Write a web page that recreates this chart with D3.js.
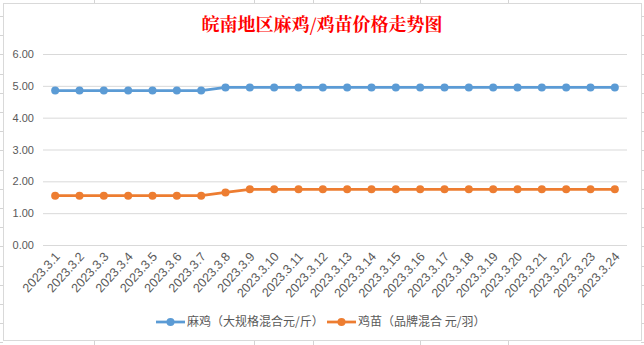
<!DOCTYPE html>
<html>
<head>
<meta charset="utf-8">
<script src="https://cdn.jsdelivr.net/npm/d3@7"></script>
<style>
  html, body { margin: 0; padding: 0; background: #fff; }
  svg { display: block; }
</style>
</head>
<body>
<svg id="chart" width="644" height="345"></svg>
<script>
// Dates (March 2023) and prices
const dates = ["2023.3.1","2023.3.2","2023.3.3","2023.3.4","2023.3.5","2023.3.6","2023.3.7","2023.3.8",
  "2023.3.9","2023.3.10","2023.3.11","2023.3.12","2023.3.13","2023.3.14","2023.3.15","2023.3.16",
  "2023.3.17","2023.3.18","2023.3.19","2023.3.20","2023.3.21","2023.3.22","2023.3.23","2023.3.24"];
const maji = [4.85,4.85,4.85,4.85,4.85,4.85,4.85,4.95,4.95,4.95,4.95,4.95,4.95,4.95,4.95,4.95,
  4.95,4.95,4.95,4.95,4.95,4.95,4.95,4.95];
const jimiao = [1.55,1.55,1.55,1.55,1.55,1.55,1.55,1.65,1.75,1.75,1.75,1.75,1.75,1.75,1.75,1.75,
  1.75,1.75,1.75,1.75,1.75,1.75,1.75,1.75];
const seriesNames = ["麻鸡（大规格混合元/斤）", "鸡苗（品牌混合 元/羽）"];
const yTicks = [0, 1, 2, 3, 4, 5, 6];
const title = "皖南地区麻鸡/鸡苗价格走势图";

const colors = ["#5B9BD5", "#ED7D31"];
const latin = "'Liberation Sans', 'Noto Sans', sans-serif";
const cjk = "'Noto Sans CJK SC', 'Noto Sans', sans-serif";

const svg = d3.select("#chart");

// sheet cell lines peeking around the chart frame
const sheet = svg.append("g").attr("stroke", "#d4d4d4").attr("stroke-width", 1);
for (let y = 16; y < 345; y += 19.2) {
  const yy = Math.round(y) + 0.5;
  sheet.append("line").attr("x1", 0).attr("x2", 3).attr("y1", yy).attr("y2", yy);
  sheet.append("line").attr("x1", 641).attr("x2", 644).attr("y1", yy).attr("y2", yy);
}
[94, 254, 313, 420, 508].forEach(x => {
  sheet.append("line").attr("x1", x + 0.5).attr("x2", x + 0.5).attr("y1", 0).attr("y2", 3);
  sheet.append("line").attr("x1", x + 0.5).attr("x2", x + 0.5).attr("y1", 341).attr("y2", 345);
});

// chart frame
svg.append("rect").attr("x", 3.5).attr("y", 3.5).attr("width", 638).attr("height", 337)
  .attr("fill", "#fff").attr("stroke", "#d9d9d9");

// title
svg.append("text").attr("x", 322).attr("y", 31).attr("text-anchor", "middle")
  .attr("font-family", "'Noto Serif CJK SC', " + cjk).attr("font-weight", "bold")
  .attr("font-size", 18).attr("fill", "#ff0000").text(title);

const x = d3.scalePoint().domain(dates).range([43, 627]).padding(0.5);
const y = d3.scaleLinear().domain([0, 6]).range([245, 54]);

// horizontal gridlines + y labels
const yAxis = d3.axisLeft(y).tickValues(yTicks).tickFormat(d3.format(".2f"))
  .tickSize(-(627 - 43)).tickPadding(9);
const gy = svg.append("g").attr("transform", "translate(43,0)").call(yAxis);
gy.select(".domain").remove();
gy.selectAll(".tick line").attr("stroke", "#d9d9d9");
gy.selectAll(".tick text").attr("fill", "#595959").attr("font-family", latin).attr("font-size", 11);

// x labels, rotated
const xAxis = d3.axisBottom(x).tickSize(0).tickPadding(0);
const gx = svg.append("g").attr("transform", "translate(0,245)").call(xAxis);
gx.select(".domain").remove();
gx.selectAll(".tick text")
  .attr("fill", "#595959").attr("font-family", latin).attr("font-size", 12.5)
  .attr("text-anchor", "end").attr("dy", null).attr("y", 0)
  .attr("transform", "translate(5,12) rotate(-48)");

// lines and markers
const series = [maji, jimiao];
const line = d3.line().x((d, i) => x(dates[i])).y(d => y(d));
series.forEach((vals, k) => {
  svg.append("path").datum(vals).attr("d", line).attr("fill", "none")
    .attr("stroke", colors[k]).attr("stroke-width", 2.75).attr("stroke-linejoin", "round");
  svg.append("g").selectAll("circle").data(vals).join("circle")
    .attr("cx", (d, i) => x(dates[i])).attr("cy", d => y(d)).attr("r", 4)
    .attr("fill", colors[k]);
});

// legend
const legendX = [156, 327];
const lg = svg.append("g");
seriesNames.forEach((name, k) => {
  const g = lg.append("g").attr("transform", `translate(${legendX[k]},322)`);
  g.append("line").attr("x1", 0).attr("x2", 29).attr("y1", 0).attr("y2", 0)
    .attr("stroke", colors[k]).attr("stroke-width", 2.75);
  g.append("circle").attr("cx", 14.5).attr("cy", 0).attr("r", 4).attr("fill", colors[k]);
  g.append("text").attr("x", 31).attr("y", 0).attr("dy", "0.35em")
    .attr("font-family", cjk).attr("font-size", 12).attr("fill", "#595959").text(name);
});
</script>
</body>
</html>
